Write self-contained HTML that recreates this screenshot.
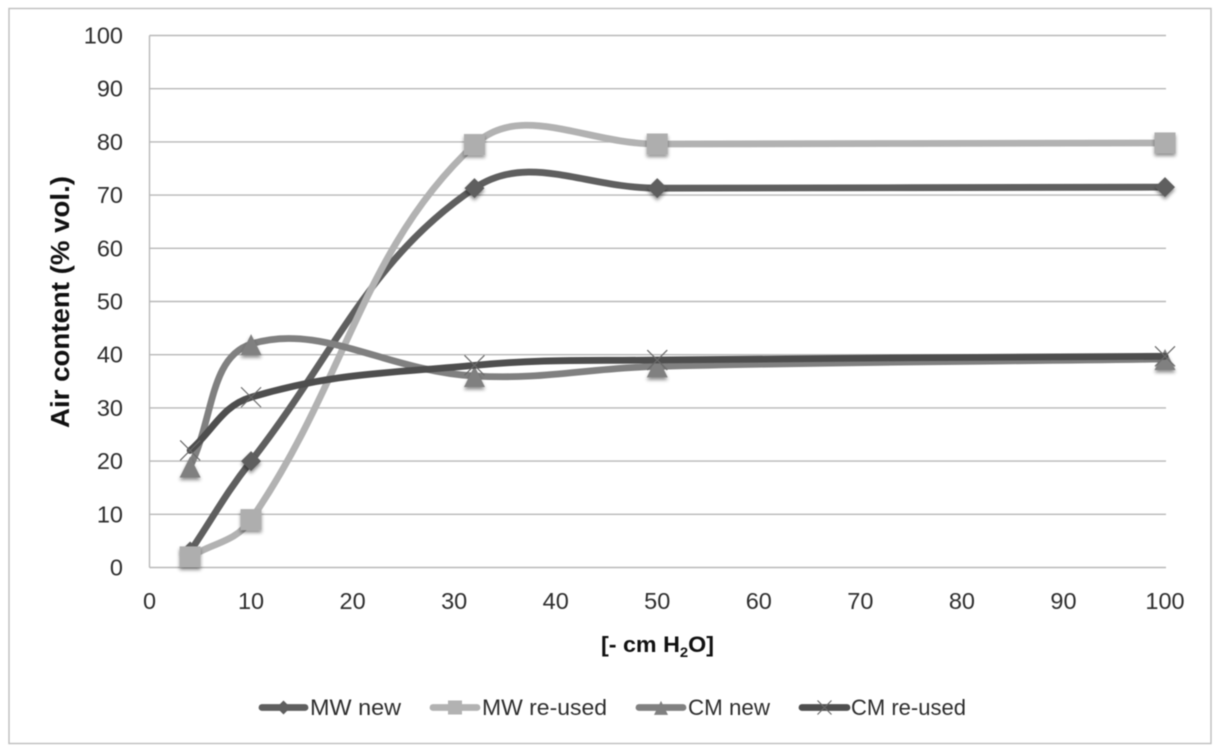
<!DOCTYPE html>
<html lang="en">
<head>
<meta charset="utf-8">
<title>Air content chart</title>
<style>
  html, body { margin: 0; padding: 0; background: #fff; width: 1218px; height: 753px; overflow: hidden; }
  svg { display: block; filter: blur(0.4px); }
  text { font-family: "Liberation Sans", sans-serif; fill: #2e2e2e; }
</style>
</head>
<body>
<svg id="chart" xmlns="http://www.w3.org/2000/svg" width="1218" height="753" viewBox="0 0 1218 753">
  <defs>
    <filter id="marker-shadow" x="-60%" y="-60%" width="220%" height="240%">
      <feDropShadow dx="0" dy="2.5" stdDeviation="1.8" flood-color="#000" flood-opacity="0.45"/>
    </filter>
  </defs>
  <rect x="9" y="8.5" width="1202" height="735" fill="#fff" stroke="#bdbdbd" stroke-width="1.4"/>
  <g id="grid"></g>
  <g id="ticks"></g>
  <g id="series"></g>
  <text transform="translate(69,302) rotate(-90)" text-anchor="middle" font-size="25.5" font-weight="700" textLength="252" lengthAdjust="spacingAndGlyphs" style="fill:#111">Air content (% vol.)</text>
  <text x="601" y="652" font-size="22" font-weight="700" style="fill:#111" textLength="113" lengthAdjust="spacingAndGlyphs">[- cm H<tspan font-size="14" dy="5">2</tspan><tspan dy="-5">O]</tspan></text>
  <g id="legend"></g>
</svg>
<script>
const xValues = [4, 10, 32, 50, 100];
const mwNew = [3, 20, 71.3, 71.3, 71.5];
const mwReused = [2, 9, 79.5, 79.6, 79.8];
const cmNew = [19, 42, 36, 37.8, 39.2];
const cmReused = [22, 32, 38, 39, 39.7];
const seriesNames = ['MW new', 'MW re-used', 'CM new', 'CM re-used'];
const xTicks = [0, 10, 20, 30, 40, 50, 60, 70, 80, 90, 100];
const yTicks = [0, 10, 20, 30, 40, 50, 60, 70, 80, 90, 100];

const NS = 'http://www.w3.org/2000/svg';
const sx = v => 149.5 + v * 10.155;
const sy = v => 567.5 - v * 5.32;
const K = 0.39;

function make(parent, tag, attrs, text) {
  const el = document.createElementNS(NS, tag);
  for (const k in attrs) el.setAttribute(k, attrs[k]);
  if (text !== undefined) el.textContent = text;
  parent.appendChild(el);
  return el;
}

function smoothPath(pts) {
  const n = pts.length;
  const dist = (a, b) => Math.hypot(a[0] - b[0], a[1] - b[1]);
  const ctrl = (prev, cur, next, toward) => {
    const d1 = dist(prev, cur), d2 = dist(cur, next);
    const seg = toward === 1 ? d2 : d1;
    const f = K * seg / (d1 + d2);
    return [cur[0] + toward * f * (next[0] - prev[0]), cur[1] + toward * f * (next[1] - prev[1])];
  };
  let d = 'M' + pts[0][0] + ' ' + pts[0][1];
  for (let i = 0; i < n - 1; i++) {
    const p0 = pts[Math.max(i - 1, 0)], p1 = pts[i], p2 = pts[i + 1], p3 = pts[Math.min(i + 2, n - 1)];
    const c1 = ctrl(p0, p1, p2, 1);
    const c2 = ctrl(p1, p2, p3, -1);
    d += 'C' + c1[0] + ' ' + c1[1] + ' ' + c2[0] + ' ' + c2[1] + ' ' + p2[0] + ' ' + p2[1];
  }
  return d;
}

function drawMarker(parent, type, x, y, s, color, label) {
  let el;
  if (type === 'diamond') {
    el = make(parent, 'polygon', { points: [x, y - s, x + s, y, x, y + s, x - s, y].join(' '), fill: color });
  } else if (type === 'square') {
    el = make(parent, 'rect', { x: x - s, y: y - s, width: 2 * s, height: 2 * s, fill: color });
  } else if (type === 'triangle') {
    el = make(parent, 'polygon', { points: [x, y - s * 0.95, x + s, y + s * 1.05, x - s, y + s * 1.05].join(' '), fill: color });
  } else {
    el = make(parent, 'path', { d: 'M' + (x - s) + ' ' + (y - s) + 'L' + (x + s) + ' ' + (y + s) + 'M' + (x + s) + ' ' + (y - s) + 'L' + (x - s) + ' ' + (y + s), stroke: '#6a6a6a', 'stroke-width': 1.2, fill: 'none' });
  }
  
  
  if (type !== 'cross') el.setAttribute('filter', 'url(#marker-shadow)');
  return el;
}

const grid = document.getElementById('grid');
yTicks.forEach(t => {
  const l = make(grid, 'line', { x1: sx(0), x2: sx(100) + 1, y1: sy(t), y2: sy(t), stroke: '#b8b8b8', 'stroke-width': 1.4 });
  
  
});
const yAxis = make(grid, 'line', { x1: sx(0), x2: sx(0), y1: sy(100), y2: sy(0), stroke: '#b8b8b8', 'stroke-width': 1.4 });



const ticks = document.getElementById('ticks');
yTicks.forEach(t => {
  const el = make(ticks, 'text', { x: 123, y: sy(t) + 8, 'text-anchor': 'end', 'font-size': 23.5 }, String(t));
  
  
});
xTicks.forEach(t => {
  const el = make(ticks, 'text', { x: sx(t), y: 609, 'text-anchor': 'middle', 'font-size': 23.5 }, String(t));
  
  
});

const seriesValues = [mwNew, mwReused, cmNew, cmReused];
const colors = ['#5f5f5f', '#b2b2b2', '#808080', '#4e4e4e'];
const markers = ['diamond', 'square', 'triangle', 'cross'];
const markerSizes = [10, 10.5, 10.5, 10];

const seriesG = document.getElementById('series');
seriesValues.forEach((vals, i) => {
  const slug = seriesNames[i].toLowerCase().replace(/\s+/g, '-');
  const g = make(seriesG, 'g', {});
  
  
  const pts = vals.map((v, j) => [sx(xValues[j]), sy(v)]);
  const line = make(g, 'path', { d: smoothPath(pts), fill: 'none', stroke: colors[i], 'stroke-width': 6.8, 'stroke-linecap': 'round' });
  
  
  pts.forEach((p, j) => {
    drawMarker(g, markers[i], p[0], p[1], markerSizes[i], colors[i] === '#b2b2b2' ? '#aeaeae' : colors[i], 'point-' + slug + '-' + xValues[j]);
  });
});

const legendItems = [
  { x1: 262, x2: 305, tx: 310, tw: 91 },
  { x1: 433, x2: 477, tx: 482, tw: 125 },
  { x1: 639, x2: 683, tx: 688, tw: 82 },
  { x1: 802, x2: 847, tx: 851, tw: 115 }
];
const legend = document.getElementById('legend');
legendItems.forEach((it, i) => {
  const slug = seriesNames[i].toLowerCase().replace(/\s+/g, '-');
  const g = make(legend, 'g', {});
  
  
  const l = make(g, 'line', { x1: it.x1, x2: it.x2, y1: 707.5, y2: 707.5, stroke: colors[i], 'stroke-width': 6.8, 'stroke-linecap': 'round' });
  
  
  const m = drawMarker(g, markers[i], (it.x1 + it.x2) / 2, 707.5, 7, colors[i], 'legend-marker-' + slug);
  m.removeAttribute('filter');
  const t = make(g, 'text', { x: it.tx, y: 715, 'font-size': 22, textLength: it.tw, lengthAdjust: 'spacingAndGlyphs' }, seriesNames[i]);
  
  
});
</script>
</body>
</html>
